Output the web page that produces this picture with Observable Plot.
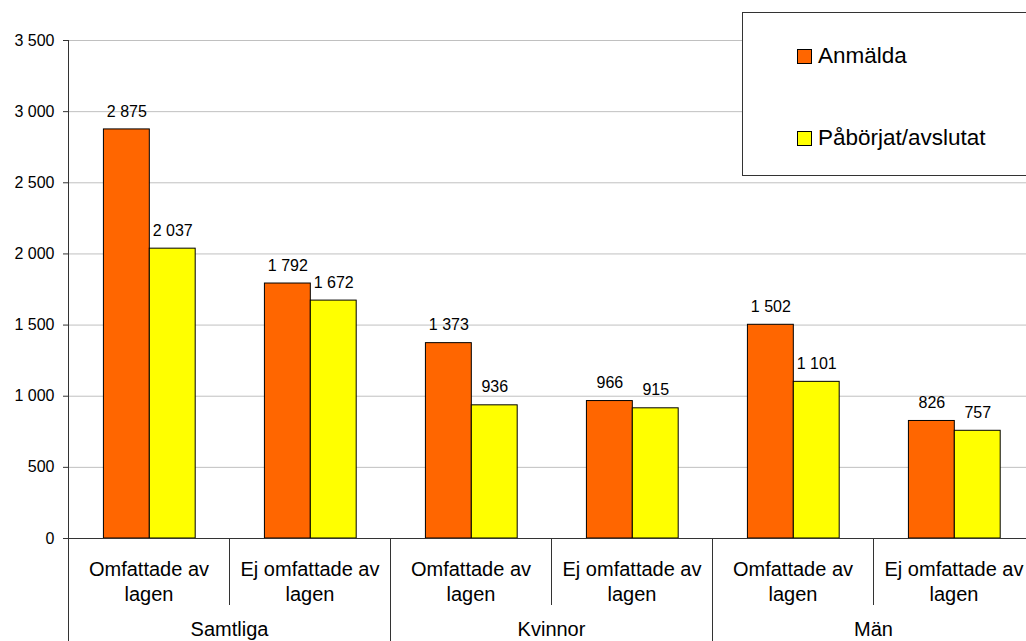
<!DOCTYPE html>
<html>
<head>
<meta charset="utf-8">
<script src="https://cdn.jsdelivr.net/npm/d3@7"></script>
<script src="https://cdn.jsdelivr.net/npm/@observablehq/plot@0.6"></script>
<style>
  html, body { margin: 0; padding: 0; background: #fff; overflow: hidden; }
  #wrap { position: relative; width: 1026px; height: 641px; overflow: hidden; font-family: "Liberation Sans", Arial, sans-serif; }
  #wrap svg { max-width: none !important; display: block; }
  #legend { position: absolute; left: 742px; top: 12px; width: 320px; height: 164px; border: 1px solid #333; background: #fff; box-sizing: border-box; }
  .item { position: absolute; left: 54px; display: flex; align-items: center; font-size: 22.5px; color: #000; }
  .sw { width: 13px; height: 13px; border: 1px solid #000; margin-right: 6px; }
</style>
</head>
<body>
<div id="wrap"></div>
<script>
// ---- data ----
const subcategories = ["Omfattade av\nlagen", "Ej omfattade av\nlagen", "Omfattade av\nlagen", "Ej omfattade av\nlagen", "Omfattade av\nlagen", "Ej omfattade av\nlagen"];
const groups = ["Samtliga", "Kvinnor", "Män"];
const seriesNames = ["Anmälda", "Påbörjat/avslutat"];
const anmalda = [2875, 1792, 1373, 966, 1502, 826];
const paborjat = [2037, 1672, 936, 915, 1101, 757];
const yTicks = [0, 500, 1000, 1500, 2000, 2500, 3000, 3500];
const colors = ["#FF6600", "#FFFF00"];

// ---- layout helpers ----
const fmt = d3.formatLocale({decimal: ",", thousands: "\u00a0", grouping: [3], currency: ["", ""]}).format(",");
const barStart = 0.22, barWidth = 0.285;
const rows = [];
subcategories.forEach((s, i) => {
  [anmalda, paborjat].forEach((arr, k) => {
    const x1 = i + barStart + k * barWidth;
    rows.push({i, series: seriesNames[k], value: arr[i], x1, x2: x1 + barWidth});
  });
});
const cats = subcategories.map((s, i) => ({i, label: s}));
const grps = groups.map((g, j) => ({j, label: g}));

const chart = Plot.plot({
  width: 1034,
  height: 641,
  marginLeft: 68,
  marginRight: 0,
  marginTop: 40,
  marginBottom: 103,
  style: {fontFamily: "Liberation Sans, Arial, sans-serif", background: "#fff", overflow: "visible", maxWidth: "none"},
  x: {domain: [0, subcategories.length], axis: null},
  y: {domain: [0, 3500], axis: null},
  color: {domain: seriesNames, range: colors},
  marks: [
    Plot.gridY(yTicks.filter(d => d > 0), {stroke: "#c0c0c0", strokeOpacity: 1}),
    Plot.axisY(yTicks, {tickSize: 5, tickPadding: 9, tickFormat: fmt, fontSize: 16, color: "#000", stroke: "#333", label: null}),
    Plot.rectY(rows, {x1: "x1", x2: "x2", y: "value", fill: "series", stroke: "#000", strokeWidth: 1}),
    Plot.text(rows, {x: d => (d.x1 + d.x2) / 2, y: "value", text: d => fmt(d.value), dy: -18, fontSize: 16, fill: "#000"}),
    Plot.ruleY([0], {stroke: "#333"}),
    Plot.ruleX([0], {stroke: "#333", insetBottom: -103}),
    Plot.ruleX(cats.filter(d => d.i % 2 === 1), {x: "i", stroke: "#333", insetTop: 498, insetBottom: -67}),
    Plot.ruleX(cats.filter(d => d.i % 2 === 0 && d.i > 0), {x: "i", stroke: "#333", insetTop: 498, insetBottom: -103}),
    Plot.text(cats, {x: d => d.i + 0.5, frameAnchor: "bottom", lineAnchor: "middle", dy: 41.5, text: "label", lineHeight: 1.25, fontSize: 20, fill: "#000"}),
    Plot.text(grps, {x: d => d.j * 2 + 1, frameAnchor: "bottom", lineAnchor: "middle", dy: 91, text: "label", fontSize: 20, fill: "#000"})
  ]
});

const wrap = document.getElementById("wrap");
wrap.appendChild(chart);

const legend = document.createElement("div");
legend.id = "legend";
seriesNames.forEach((name, k) => {
  const it = document.createElement("div");
  it.className = "item";
  it.style.top = (k === 0 ? 30 : 112) + "px";
  const sw = document.createElement("div");
  sw.className = "sw";
  sw.style.background = colors[k];
  it.appendChild(sw);
  const t = document.createElement("span");
  t.textContent = name;
  it.appendChild(t);
  legend.appendChild(it);
});
wrap.appendChild(legend);
</script>
</body>
</html>
